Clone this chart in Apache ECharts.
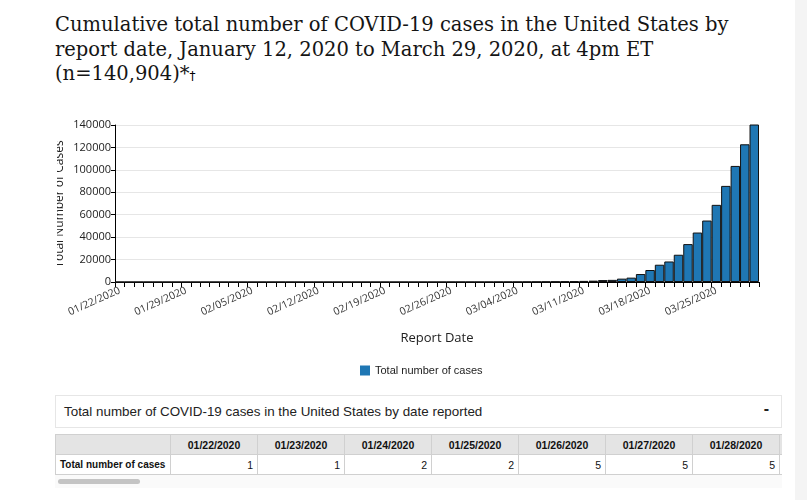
<!DOCTYPE html>
<html>
<head>
<meta charset="utf-8">
<script src="https://cdn.jsdelivr.net/npm/echarts@6/dist/echarts.min.js"></script>
<style>
  html, body { margin:0; padding:0; background:#fff; width:807px; height:500px; overflow:hidden; }
  #band { position:absolute; left:795px; top:0; width:12px; height:500px; background:#f4f4f4; }
  #title { position:absolute; left:55px; top:13px; width:740px; white-space:nowrap; font-family:"DejaVu Serif",serif; font-size:19.5px; line-height:24.5px; color:#151515; }
  #title .d { font-family:"DejaVu Sans",sans-serif; font-size:12px; color:#000; }
  #chart { position:absolute; left:57px; top:100px; width:750px; height:290px; }
  #panel { position:absolute; left:55px; top:395px; width:725px; height:31px; border:1px solid #e6e6e6; font-family:"Liberation Sans",Arial,sans-serif; font-size:13.4px; color:#222; }
  #panel .t { position:absolute; left:8px; top:8px; }
  #panel .m { position:absolute; right:12px; top:4px; font-weight:bold; font-size:16px; }
  #tablewrap { position:absolute; left:55px; top:434px; width:727px; height:54px; overflow:hidden; background:#fafafa; }
  table { border-collapse:collapse; font-family:"Liberation Sans",Arial,sans-serif; color:#111; table-layout:fixed; }
  th, td { border:1px solid #d0d0d0; height:19px; padding:0 4px; white-space:nowrap; }
  th { background:#e4e4e4; font-weight:bold; text-align:center; font-size:10.5px; }
  td { background:#fff; text-align:right; font-size:10.5px; }
  td.h { text-align:left; font-weight:bold; font-size:10px; }
  #scroll { position:absolute; left:58px; top:479px; width:82px; height:5px; border-radius:3px; background:#c4c4c4; }
</style>
</head>
<body>
<div id="band"></div>
<div id="title">Cumulative total number of COVID-19 cases in the United States by<br>report date, January 12, 2020 to March 29, 2020, at 4pm ET<br>(n=140,904)*<span class="d">†</span></div>
<div id="chart"></div>
<div id="panel"><span class="t">Total number of COVID-19 cases in the United States by date reported</span><span class="m">-</span></div>
<div id="tablewrap"><table id="tbl"></table></div>
<div id="scroll"></div>
<script>
const dates = [
  "01/22/2020","01/23/2020","01/24/2020","01/25/2020","01/26/2020","01/27/2020","01/28/2020","01/29/2020","01/30/2020","01/31/2020",
  "02/01/2020","02/02/2020","02/03/2020","02/04/2020","02/05/2020","02/06/2020","02/07/2020","02/08/2020","02/09/2020","02/10/2020",
  "02/11/2020","02/12/2020","02/13/2020","02/14/2020","02/15/2020","02/16/2020","02/17/2020","02/18/2020","02/19/2020","02/20/2020",
  "02/21/2020","02/22/2020","02/23/2020","02/24/2020","02/25/2020","02/26/2020","02/27/2020","02/28/2020","02/29/2020",
  "03/01/2020","03/02/2020","03/03/2020","03/04/2020","03/05/2020","03/06/2020","03/07/2020","03/08/2020","03/09/2020","03/10/2020",
  "03/11/2020","03/12/2020","03/13/2020","03/14/2020","03/15/2020","03/16/2020","03/17/2020","03/18/2020","03/19/2020","03/20/2020",
  "03/21/2020","03/22/2020","03/23/2020","03/24/2020","03/25/2020","03/26/2020","03/27/2020","03/28/2020","03/29/2020"
];
const totalCases = [
  1,1,2,2,5,5,5,5,6,7,
  8,11,11,11,12,12,12,12,12,12,
  13,13,14,15,15,15,15,15,15,15,
  35,35,35,53,53,59,60,62,70,
  75,100,120,150,200,260,330,420,520,700,
  1000,1200,1700,1900,3000,3900,7100,10700,15400,18300,
  24300,33800,44100,54800,68800,85700,103500,122800,140904
];
const seriesName = "Total number of cases";
const yAxisName = "Total Number of Cases";
const yTicks = [0,20000,40000,60000,80000,100000,120000,140000];

const tbl = document.getElementById('tbl');
let h = '<colgroup><col style="width:115px">' + dates.map(()=>'<col style="width:87px">').join('') + '</colgroup>';
h += '<tr><th></th>' + dates.map(d=>'<th>'+d+'</th>').join('') + '</tr>';
h += '<tr><td class="h">' + seriesName + '</td>' + totalCases.map(v=>'<td>'+v+'</td>').join('') + '</tr>';
tbl.innerHTML = h;
tbl.style.width = (115 + 87*dates.length) + 'px';

const chart = echarts.init(document.getElementById('chart'), null, {renderer:'canvas'});
const font = '"Open Sans", "Liberation Sans", Arial, sans-serif';
chart.setOption({
  animation:false,
  textStyle:{fontFamily:font},
  grid:{left:58, right:48, top:25, bottom:108, containLabel:false, outerBoundsMode:'none'},
  graphic:[{
    type:'text', x:3, y:104, rotation:Math.PI/2,
    style:{text:yAxisName, align:'center', verticalAlign:'middle', fontSize:12, fill:'#222', fontFamily:font}
  }],
  legend:{
    data:[seriesName], left:298, top:260, itemWidth:10, itemHeight:10, itemGap:8,
    icon:'rect',
    itemStyle:{borderWidth:0, color:'#1f77b4'},
    textStyle:{fontSize:11, color:'#222', fontFamily:'"Liberation Sans", Arial, sans-serif'}
  },
  xAxis:{
    type:'category', data:dates,
    name:'Report Date', nameLocation:'middle', nameGap:50,
    nameTextStyle:{fontSize:13, color:'#222'},
    axisLine:{lineStyle:{color:'#000', width:1}},
    axisTick:{show:true, alignWithLabel:false, interval:0, length:5, lineStyle:{color:'#000'}},
    axisLabel:{interval:6, rotate:24, fontSize:10.5, color:'#333', margin:8},
    splitLine:{show:false}
  },
  yAxis:{
    type:'value', min:yTicks[0], max:yTicks[yTicks.length-1], interval:20000,
    axisLine:{show:true, lineStyle:{color:'#000'}},
    axisTick:{show:true, length:4, lineStyle:{color:'#000'}},
    axisLabel:{fontSize:11, color:'#222', margin:4, formatter:(v)=>String(v)},
    splitLine:{lineStyle:{color:'#e6e6e6'}}
  },
  series:[{
    name:seriesName, type:'bar', data:totalCases,
    barCategoryGap:'0%',
    itemStyle:{color:'#1f77b4', borderColor:'#111', borderWidth:1}
  }]
});
</script>
</body>
</html>
